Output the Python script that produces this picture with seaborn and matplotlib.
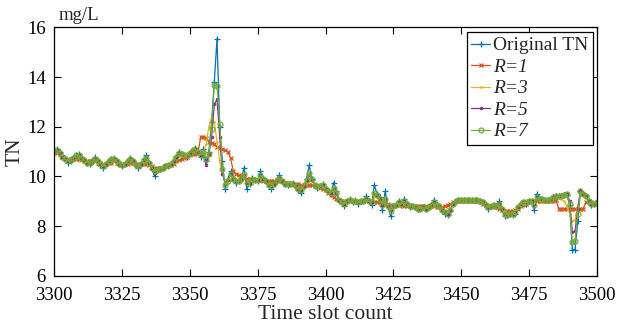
import numpy as np
import pandas as pd
import matplotlib
matplotlib.use("Agg")
import matplotlib.pyplot as plt
import seaborn as sns

# Time slots 3300..3500
slots = list(range(3300, 3501))

original_tn = [
    11.05, 11.1, 11.0, 10.85, 10.7, 10.55, 10.6, 10.75, 10.85, 10.9,
    10.8, 10.65, 10.55, 10.5, 10.6, 10.8, 10.6, 10.45, 10.35, 10.5,
    10.6, 10.7, 10.75, 10.6, 10.5, 10.4, 10.5, 10.6, 10.75, 10.6,
    10.45, 10.35, 10.5, 10.7, 10.85, 10.55, 10.3, 10.0, 10.25, 10.3,
    10.35, 10.4, 10.4, 10.5, 10.6, 10.8, 11.0, 10.9, 10.85, 10.8,
    10.95, 11.05, 11.15, 11.0, 10.8, 11.1, 10.6, 11.0, 12.2, 13.8,
    15.55, 12.0, 10.6, 9.5, 9.9, 10.2, 9.9, 9.75, 9.8, 9.9,
    10.35, 9.5, 9.7, 9.95, 9.85, 9.8, 10.2, 9.9, 9.8, 9.6,
    9.5, 9.7, 9.85, 10.05, 9.8, 9.7, 9.65, 9.7, 9.75, 9.6,
    9.45, 9.35, 9.6, 9.9, 10.45, 9.9, 9.6, 9.55, 9.6, 9.7,
    9.5, 9.4, 9.3, 9.75, 9.4, 9.0, 8.95, 8.8, 9.0, 9.1,
    8.95, 9.05, 8.9, 9.0, 9.0, 9.2, 9.0, 8.85, 9.65, 9.3,
    9.15, 8.65, 9.4, 8.8, 8.4, 8.8, 8.85, 9.0, 8.85, 9.1,
    8.9, 8.75, 8.8, 8.75, 8.7, 8.7, 8.75, 8.7, 8.75, 8.85,
    9.05, 8.85, 8.8, 8.6, 8.5, 8.45, 8.6, 8.9, 9.0, 9.05,
    9.05, 9.05, 9.05, 9.05, 9.05, 9.05, 9.05, 9.0, 8.95, 8.85,
    8.7, 8.8, 8.85, 8.8, 9.0, 8.7, 8.4, 8.45, 8.5, 8.45,
    8.5, 8.75, 8.9, 8.95, 8.9, 9.0, 9.0, 8.65, 9.3, 9.1,
    9.1, 9.05, 9.05, 9.1, 9.15, 9.2, 9.2, 9.2, 9.25, 9.25,
    8.85, 7.05, 7.05, 8.2, 9.4, 9.3, 9.2, 9.0, 8.85, 8.9,
    8.95,
]

r1 = [
    11.0, 10.95, 10.9, 10.8, 10.75, 10.7, 10.7, 10.7, 10.7, 10.7,
    10.65, 10.6, 10.6, 10.6, 10.6, 10.6, 10.55, 10.55, 10.5, 10.5,
    10.55, 10.55, 10.6, 10.55, 10.55, 10.5, 10.5, 10.5, 10.55, 10.55,
    10.5, 10.5, 10.5, 10.5, 10.5, 10.45, 10.4, 10.35, 10.35, 10.35,
    10.35, 10.4, 10.4, 10.45, 10.5, 10.6, 10.65, 10.7, 10.75, 10.8,
    10.85, 10.9, 10.9, 10.95, 11.6, 11.6, 11.55, 11.4, 11.35, 11.3,
    11.2, 11.15, 11.1, 11.05, 11.0, 10.75, 10.2, 10.1, 10.05, 10.0,
    9.95, 9.9, 9.9, 9.85, 9.85, 9.85, 9.85, 9.8, 9.8, 9.8,
    9.8, 9.8, 9.8, 9.8, 9.8, 9.75, 9.75, 9.75, 9.7, 9.7,
    9.7, 9.65, 9.65, 9.65, 9.65, 9.65, 9.6, 9.6, 9.55, 9.5,
    9.45, 9.35, 9.25, 9.15, 9.1, 9.05, 9.0, 9.0, 9.0, 9.0,
    9.0, 9.0, 9.0, 9.0, 9.0, 9.0, 9.0, 9.0, 8.95, 8.95,
    8.95, 8.9, 8.9, 8.9, 8.85, 8.85, 8.85, 8.85, 8.85, 8.8,
    8.8, 8.8, 8.8, 8.8, 8.8, 8.8, 8.8, 8.8, 8.8, 8.8,
    8.8, 8.75, 8.75, 8.75, 8.8, 8.85, 8.9, 8.95, 9.0, 9.0,
    9.0, 9.0, 9.0, 9.0, 9.0, 9.0, 9.0, 8.95, 8.9, 8.85,
    8.8, 8.8, 8.75, 8.75, 8.7, 8.65, 8.6, 8.6, 8.6, 8.6,
    8.65, 8.7, 8.8, 8.85, 8.9, 8.95, 9.0, 9.0, 9.0, 9.0,
    9.0, 9.0, 9.0, 9.0, 9.0, 9.05, 8.7, 8.7, 8.7, 8.7,
    8.7, 8.7, 8.7, 8.7, 8.7, 8.7, 8.95, 9.0, 8.95, 8.9,
    8.9,
]

r3 = [
    11.05, 11.0, 10.95, 10.8, 10.7, 10.65, 10.65, 10.7, 10.75, 10.8,
    10.7, 10.65, 10.6, 10.55, 10.6, 10.65, 10.6, 10.5, 10.45, 10.5,
    10.55, 10.6, 10.65, 10.6, 10.5, 10.5, 10.5, 10.55, 10.6, 10.55,
    10.45, 10.4, 10.5, 10.6, 10.6, 10.5, 10.35, 10.25, 10.3, 10.3,
    10.35, 10.4, 10.45, 10.5, 10.6, 10.7, 10.85, 10.85, 10.85, 10.85,
    10.95, 11.0, 11.05, 11.0, 10.9, 11.0, 11.3, 12.0, 12.4, 12.2,
    11.4, 10.6, 10.1, 9.8, 9.75, 9.85, 9.9, 9.8, 9.8, 9.85,
    9.95, 9.8, 9.8, 9.85, 9.85, 9.85, 9.9, 9.85, 9.8, 9.7,
    9.65, 9.7, 9.75, 9.85, 9.8, 9.7, 9.7, 9.7, 9.65, 9.6,
    9.55, 9.5, 9.6, 9.75, 9.85, 9.8, 9.65, 9.6, 9.6, 9.6,
    9.5, 9.4, 9.35, 9.4, 9.25, 9.1, 9.0, 8.95, 9.0, 9.0,
    9.0, 9.0, 8.95, 9.0, 9.0, 9.05, 9.0, 9.0, 9.15, 9.15,
    9.05, 8.95, 8.95, 8.85, 8.75, 8.8, 8.85, 8.9, 8.9, 8.9,
    8.85, 8.8, 8.8, 8.75, 8.75, 8.7, 8.75, 8.75, 8.75, 8.8,
    8.85, 8.8, 8.75, 8.7, 8.6, 8.6, 8.7, 8.85, 8.95, 9.0,
    9.05, 9.05, 9.05, 9.05, 9.05, 9.05, 9.0, 9.0, 8.95, 8.85,
    8.8, 8.8, 8.8, 8.8, 8.8, 8.7, 8.6, 8.5, 8.5, 8.5,
    8.6, 8.75, 8.85, 8.9, 8.95, 9.0, 9.0, 8.95, 9.05, 9.05,
    9.05, 9.05, 9.05, 9.1, 9.1, 9.15, 9.15, 9.1, 9.0, 8.8,
    8.5, 8.2, 8.25, 8.8, 9.25, 9.25, 9.15, 9.0, 8.9, 8.9,
    8.95,
]

r5 = [
    11.05, 11.05, 10.95, 10.8, 10.7, 10.6, 10.65, 10.75, 10.8, 10.85,
    10.75, 10.65, 10.55, 10.55, 10.6, 10.7, 10.6, 10.5, 10.4, 10.5,
    10.6, 10.65, 10.7, 10.6, 10.5, 10.45, 10.5, 10.6, 10.7, 10.6,
    10.45, 10.4, 10.5, 10.65, 10.7, 10.55, 10.35, 10.15, 10.25, 10.3,
    10.35, 10.4, 10.45, 10.5, 10.6, 10.75, 10.95, 10.9, 10.85, 10.85,
    10.95, 11.05, 11.1, 11.0, 10.85, 10.9, 10.45, 10.9, 11.6, 12.9,
    13.1, 11.6, 10.1, 9.75, 9.85, 10.1, 9.9, 9.8, 9.8, 9.9,
    10.05, 9.75, 9.75, 9.9, 9.85, 9.85, 10.0, 9.9, 9.8, 9.65,
    9.6, 9.7, 9.8, 9.95, 9.8, 9.7, 9.7, 9.7, 9.7, 9.6,
    9.5, 9.45, 9.6, 9.8, 10.05, 9.85, 9.65, 9.6, 9.6, 9.65,
    9.5, 9.4, 9.35, 9.5, 9.3, 9.05, 8.95, 8.9, 9.0, 9.05,
    9.0, 9.0, 8.95, 9.0, 9.0, 9.1, 9.0, 8.95, 9.3, 9.2,
    9.1, 8.85, 9.05, 8.8, 8.65, 8.8, 8.85, 8.95, 8.9, 9.0,
    8.9, 8.8, 8.8, 8.75, 8.7, 8.7, 8.75, 8.7, 8.75, 8.85,
    8.95, 8.85, 8.8, 8.65, 8.55, 8.5, 8.65, 8.9, 9.0, 9.05,
    9.05, 9.05, 9.05, 9.05, 9.05, 9.05, 9.05, 9.0, 8.95, 8.85,
    8.75, 8.8, 8.85, 8.8, 8.9, 8.7, 8.5, 8.45, 8.5, 8.5,
    8.55, 8.75, 8.9, 8.95, 8.95, 9.0, 9.0, 8.9, 9.1, 9.1,
    9.1, 9.05, 9.05, 9.1, 9.15, 9.2, 9.2, 9.25, 9.3, 9.35,
    9.0, 7.75, 7.8, 8.7, 9.45, 9.3, 9.2, 9.0, 8.9, 8.9,
    8.95,
]

r7 = [
    11.05, 11.05, 10.95, 10.8, 10.7, 10.6, 10.65, 10.75, 10.85, 10.85,
    10.75, 10.65, 10.55, 10.55, 10.6, 10.7, 10.6, 10.5, 10.4, 10.5,
    10.6, 10.7, 10.7, 10.6, 10.5, 10.45, 10.5, 10.6, 10.7, 10.6,
    10.45, 10.4, 10.5, 10.65, 10.75, 10.55, 10.35, 10.2, 10.25, 10.3,
    10.35, 10.4, 10.45, 10.5, 10.6, 10.8, 10.95, 10.9, 10.85, 10.85,
    10.95, 11.05, 11.1, 11.0, 10.85, 11.0, 10.7, 10.9, 11.9, 13.7,
    13.65, 12.1, 10.3, 9.65, 9.8, 10.1, 9.9, 9.8, 9.8, 9.9,
    10.1, 9.75, 9.75, 9.9, 9.85, 9.85, 10.05, 9.9, 9.8, 9.65,
    9.6, 9.7, 9.85, 9.95, 9.8, 9.7, 9.7, 9.7, 9.7, 9.6,
    9.5, 9.45, 9.6, 9.85, 10.15, 9.9, 9.65, 9.6, 9.6, 9.65,
    9.5, 9.4, 9.35, 9.55, 9.35, 9.05, 8.95, 8.9, 9.0, 9.05,
    9.0, 9.0, 8.95, 9.0, 9.0, 9.1, 9.0, 8.95, 9.35, 9.25,
    9.1, 8.85, 9.1, 8.8, 8.6, 8.8, 8.85, 8.95, 8.9, 9.0,
    8.9, 8.8, 8.8, 8.75, 8.7, 8.7, 8.75, 8.7, 8.75, 8.85,
    8.95, 8.85, 8.8, 8.65, 8.55, 8.5, 8.65, 8.9, 9.0, 9.05,
    9.05, 9.05, 9.05, 9.05, 9.05, 9.05, 9.05, 9.0, 8.95, 8.85,
    8.75, 8.8, 8.85, 8.8, 8.9, 8.7, 8.5, 8.45, 8.5, 8.5,
    8.55, 8.75, 8.9, 8.95, 8.95, 9.0, 9.0, 8.85, 9.15, 9.1,
    9.1, 9.05, 9.05, 9.1, 9.15, 9.2, 9.2, 9.2, 9.25, 9.3,
    8.9, 7.35, 7.4, 8.5, 9.4, 9.3, 9.2, 9.0, 8.9, 8.9,
    8.95,
]

series_labels = ["Original TN", "R=1", "R=3", "R=5", "R=7"]
x_ticks = [3300, 3325, 3350, 3375, 3400, 3425, 3450, 3475, 3500]
y_ticks = [6, 8, 10, 12, 14, 16]

sns.set_style("ticks")
plt.rcParams["font.family"] = ["Liberation Serif", "DejaVu Serif"]

fig = plt.figure(figsize=(6.19, 3.27), dpi=100)
ax = fig.add_axes([0.0877, 0.157, 0.8763, 0.759])

colors = ["#0072BD", "#D95319", "#EDB120", "#7E2F8E", "#77AC30"]
styles = [
    dict(marker="+", markersize=4, markeredgewidth=0.9),
    dict(marker="x", markersize=2.5, markeredgewidth=0.9),
    dict(marker=".", markersize=2.5, markeredgewidth=0.5),
    dict(marker=".", markersize=4, markeredgewidth=0.5),
    dict(marker="o", markersize=3.5, markerfacecolor="none", markeredgewidth=0.9),
]
all_series = [original_tn, r1, r3, r5, r7]

for vals, lab, col, st in zip(all_series, series_labels, colors, styles):
    df = pd.DataFrame({"slot": slots, "value": vals})
    sns.lineplot(data=df, x="slot", y="value", ax=ax, label=lab,
                 color=col, markeredgecolor=col, linewidth=0.9, **st)

ax.set_xlim(3300, 3500)
ax.set_ylim(6, 16)
ax.set_xticks(x_ticks)
ax.set_yticks(y_ticks)
ax.tick_params(direction="in", length=5, width=0.8, top=True, right=True,
               labelsize=13.5, colors="black")
ax.tick_params(axis="x", pad=8)
ax.tick_params(axis="y", pad=6)
for sp in ax.spines.values():
    sp.set_visible(True)
    sp.set_linewidth(0.9)
    sp.set_color("black")

ax.set_xlabel("Time slot count", fontsize=15.5, labelpad=1)
ax.set_ylabel("TN", fontsize=15.5, labelpad=2)
ax.text(0.008, 1.015, "mg/L", transform=ax.transAxes, fontsize=13.5,
        ha="left", va="bottom")

leg = ax.legend(loc="upper right", bbox_to_anchor=(0.993, 0.982),
                fontsize=14, frameon=True, fancybox=False, framealpha=1,
                edgecolor="black", borderpad=0.25, labelspacing=0.2,
                handlelength=0.95, handletextpad=0.15, borderaxespad=0)
leg.get_frame().set_linewidth(0.9)
for txt in leg.get_texts()[1:]:
    txt.set_fontstyle("italic")

fig.savefig("out.png", dpi=100)
